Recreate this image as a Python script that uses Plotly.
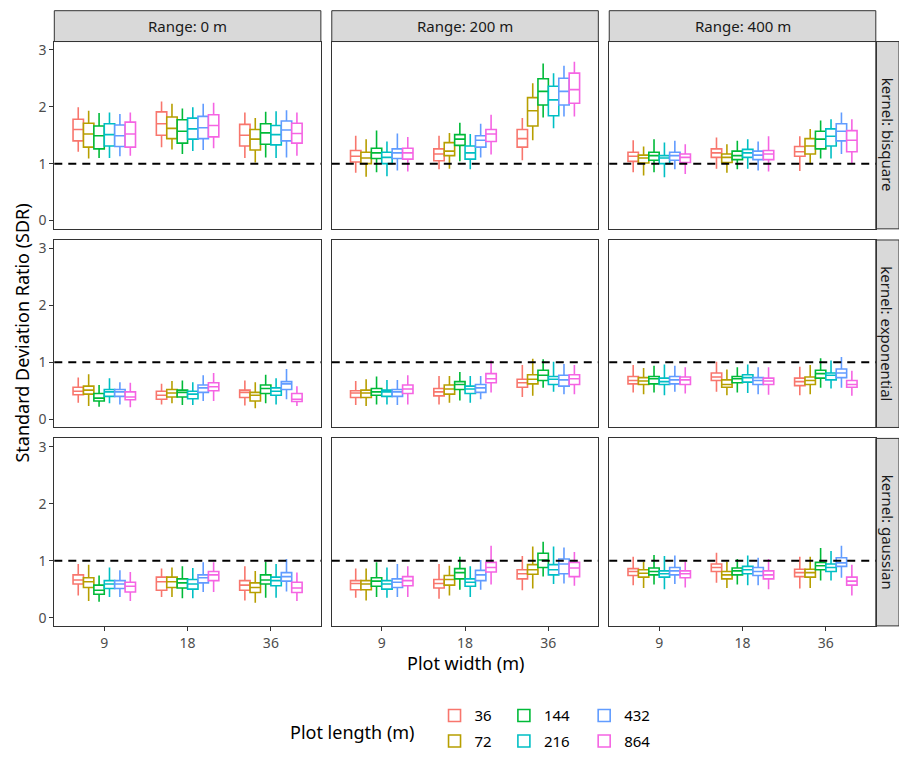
import plotly.graph_objects as go

# ---------------- data ----------------
widths = ["9", "18", "36"]                      # x categories: plot width (m)
lengths = ["36", "72", "144", "216", "432", "864"]  # series: plot length (m)
ranges = ["Range: 0 m", "Range: 200 m", "Range: 400 m"]
kernels = ["kernel: bisquare", "kernel: exponential", "kernel: gaussian"]
colors = ["#F8766D", "#B79F00", "#00BA38", "#00BFC4", "#619CFF", "#F564E3"]
y_ticks = [0, 1, 2, 3]

# each panel: per width, per length -> (lower whisker, q1, median, q3, upper whisker)
bisquare_0 = [
    [(1.21, 1.40, 1.60, 1.78, 1.99), (1.09, 1.29, 1.52, 1.71, 1.93), (1.10, 1.26, 1.49, 1.66, 1.89),
     (1.10, 1.31, 1.51, 1.70, 1.90), (1.13, 1.30, 1.49, 1.68, 1.87), (1.14, 1.29, 1.52, 1.73, 1.90)],
    [(1.29, 1.50, 1.70, 1.91, 2.09), (1.25, 1.44, 1.62, 1.82, 2.05), (1.17, 1.36, 1.57, 1.77, 1.97),
     (1.22, 1.43, 1.61, 1.80, 1.99), (1.24, 1.44, 1.63, 1.83, 2.05), (1.27, 1.47, 1.67, 1.86, 2.07)],
    [(1.10, 1.31, 1.50, 1.69, 1.90), (1.02, 1.24, 1.43, 1.60, 1.80), (1.11, 1.34, 1.54, 1.70, 1.91),
     (1.10, 1.33, 1.51, 1.67, 1.92), (1.11, 1.40, 1.59, 1.75, 1.94), (1.14, 1.36, 1.53, 1.71, 1.90)],
]
bisquare_200 = [
    [(0.84, 1.03, 1.13, 1.23, 1.49), (0.77, 1.00, 1.10, 1.20, 1.43), (0.85, 1.09, 1.19, 1.27, 1.58),
     (0.78, 1.00, 1.11, 1.20, 1.39), (0.88, 1.09, 1.19, 1.26, 1.53), (0.86, 1.08, 1.19, 1.27, 1.47)],
    [(0.90, 1.05, 1.17, 1.26, 1.49), (0.91, 1.14, 1.22, 1.37, 1.54), (1.04, 1.32, 1.43, 1.51, 1.72),
     (0.90, 1.08, 1.19, 1.31, 1.52), (1.11, 1.29, 1.41, 1.49, 1.70), (1.16, 1.39, 1.52, 1.60, 1.86)],
    [(1.06, 1.29, 1.44, 1.60, 1.80), (1.41, 1.66, 1.93, 2.16, 2.41), (1.81, 2.03, 2.27, 2.49, 2.76),
     (1.62, 1.84, 2.12, 2.36, 2.59), (1.83, 2.03, 2.27, 2.50, 2.72), (1.83, 2.06, 2.30, 2.59, 2.79)],
]
bisquare_400 = [
    [(0.85, 1.04, 1.13, 1.20, 1.41), (0.79, 1.01, 1.10, 1.15, 1.30), (0.85, 1.06, 1.14, 1.20, 1.43),
     (0.76, 1.00, 1.10, 1.14, 1.37), (0.90, 1.06, 1.14, 1.20, 1.40), (0.82, 1.02, 1.11, 1.17, 1.34)],
    [(0.91, 1.11, 1.19, 1.26, 1.46), (0.84, 1.02, 1.11, 1.17, 1.34), (0.90, 1.07, 1.14, 1.22, 1.40),
     (0.91, 1.11, 1.19, 1.25, 1.43), (0.88, 1.07, 1.15, 1.22, 1.39), (0.86, 1.07, 1.17, 1.23, 1.48)],
    [(0.87, 1.13, 1.21, 1.30, 1.48), (1.00, 1.17, 1.31, 1.44, 1.61), (1.09, 1.26, 1.43, 1.57, 1.76),
     (1.09, 1.31, 1.48, 1.61, 1.78), (1.17, 1.40, 1.57, 1.70, 1.90), (1.01, 1.21, 1.41, 1.58, 1.78)],
]
exponential_0 = [
    [(0.29, 0.43, 0.49, 0.56, 0.73), (0.23, 0.44, 0.51, 0.58, 0.79), (0.22, 0.32, 0.37, 0.45, 0.60),
     (0.28, 0.40, 0.48, 0.52, 0.72), (0.26, 0.40, 0.48, 0.52, 0.65), (0.21, 0.34, 0.39, 0.48, 0.64)],
    [(0.26, 0.35, 0.42, 0.49, 0.62), (0.28, 0.39, 0.46, 0.52, 0.67), (0.25, 0.39, 0.47, 0.51, 0.68),
     (0.25, 0.36, 0.44, 0.49, 0.65), (0.32, 0.47, 0.55, 0.60, 0.77), (0.32, 0.50, 0.57, 0.64, 0.81)],
    [(0.24, 0.38, 0.47, 0.51, 0.68), (0.19, 0.32, 0.42, 0.47, 0.65), (0.28, 0.45, 0.54, 0.60, 0.78),
     (0.26, 0.42, 0.49, 0.55, 0.72), (0.35, 0.52, 0.62, 0.66, 0.88), (0.23, 0.31, 0.35, 0.45, 0.58)],
]
exponential_200 = [
    [(0.25, 0.38, 0.46, 0.50, 0.67), (0.23, 0.38, 0.46, 0.51, 0.70), (0.26, 0.42, 0.48, 0.54, 0.75),
     (0.26, 0.40, 0.48, 0.51, 0.69), (0.25, 0.40, 0.48, 0.52, 0.69), (0.26, 0.45, 0.53, 0.60, 0.77)],
    [(0.26, 0.41, 0.48, 0.54, 0.76), (0.29, 0.44, 0.53, 0.60, 0.76), (0.33, 0.52, 0.61, 0.66, 0.83),
     (0.29, 0.45, 0.53, 0.58, 0.76), (0.35, 0.47, 0.55, 0.61, 0.76), (0.47, 0.64, 0.71, 0.80, 1.03)],
    [(0.39, 0.56, 0.64, 0.70, 0.95), (0.41, 0.62, 0.70, 0.78, 1.06), (0.55, 0.68, 0.77, 0.86, 1.05),
     (0.48, 0.61, 0.70, 0.75, 1.01), (0.44, 0.58, 0.69, 0.77, 0.97), (0.44, 0.61, 0.71, 0.78, 0.95)],
]
exponential_400 = [
    [(0.47, 0.62, 0.68, 0.75, 0.95), (0.44, 0.61, 0.67, 0.73, 0.90), (0.47, 0.62, 0.71, 0.75, 0.94),
     (0.42, 0.61, 0.66, 0.72, 0.96), (0.48, 0.62, 0.69, 0.75, 0.94), (0.45, 0.61, 0.69, 0.74, 0.91)],
    [(0.48, 0.68, 0.74, 0.81, 1.01), (0.42, 0.56, 0.61, 0.69, 0.87), (0.47, 0.64, 0.71, 0.75, 0.91),
     (0.46, 0.65, 0.73, 0.78, 0.96), (0.44, 0.61, 0.68, 0.73, 0.91), (0.43, 0.61, 0.67, 0.72, 0.91)],
    [(0.42, 0.59, 0.66, 0.72, 0.92), (0.44, 0.61, 0.68, 0.74, 0.95), (0.55, 0.72, 0.80, 0.86, 1.07),
     (0.54, 0.69, 0.77, 0.81, 1.03), (0.55, 0.73, 0.81, 0.88, 1.09), (0.41, 0.56, 0.61, 0.68, 0.85)],
]
gaussian_0 = [
    [(0.39, 0.59, 0.66, 0.75, 0.94), (0.29, 0.53, 0.63, 0.70, 0.93), (0.28, 0.41, 0.48, 0.57, 0.74),
     (0.36, 0.51, 0.59, 0.65, 0.88), (0.36, 0.51, 0.59, 0.65, 0.83), (0.29, 0.45, 0.55, 0.62, 0.80)],
    [(0.36, 0.48, 0.63, 0.71, 0.86), (0.36, 0.53, 0.63, 0.71, 0.88), (0.34, 0.52, 0.61, 0.68, 0.90),
     (0.34, 0.50, 0.59, 0.67, 0.87), (0.45, 0.61, 0.70, 0.75, 0.97), (0.45, 0.65, 0.75, 0.81, 0.97)],
    [(0.30, 0.48, 0.57, 0.65, 0.90), (0.26, 0.44, 0.53, 0.61, 0.82), (0.35, 0.59, 0.66, 0.75, 0.98),
     (0.35, 0.56, 0.65, 0.71, 0.94), (0.46, 0.64, 0.72, 0.79, 1.03), (0.29, 0.44, 0.52, 0.62, 0.79)],
]
gaussian_200 = [
    [(0.35, 0.49, 0.60, 0.65, 0.86), (0.30, 0.49, 0.59, 0.65, 0.86), (0.36, 0.55, 0.64, 0.70, 0.97),
     (0.35, 0.50, 0.59, 0.65, 0.88), (0.36, 0.53, 0.62, 0.68, 0.94), (0.36, 0.56, 0.65, 0.72, 0.90)],
    [(0.33, 0.52, 0.60, 0.67, 0.94), (0.39, 0.57, 0.67, 0.74, 0.91), (0.49, 0.68, 0.79, 0.86, 1.07),
     (0.36, 0.55, 0.62, 0.68, 0.90), (0.49, 0.65, 0.75, 0.83, 1.01), (0.58, 0.80, 0.88, 0.97, 1.26)],
    [(0.48, 0.68, 0.77, 0.84, 1.08), (0.51, 0.76, 0.84, 0.93, 1.25), (0.72, 0.88, 1.01, 1.13, 1.33),
     (0.59, 0.75, 0.84, 0.93, 1.25), (0.60, 0.77, 0.94, 1.03, 1.23), (0.56, 0.72, 0.87, 0.97, 1.15)],
]
gaussian_400 = [
    [(0.57, 0.74, 0.81, 0.86, 1.07), (0.52, 0.71, 0.78, 0.84, 0.98), (0.58, 0.75, 0.81, 0.87, 1.10),
     (0.50, 0.71, 0.77, 0.82, 1.08), (0.59, 0.75, 0.82, 0.88, 1.09), (0.53, 0.70, 0.77, 0.82, 0.98)],
    [(0.61, 0.81, 0.88, 0.94, 1.14), (0.52, 0.68, 0.75, 0.81, 0.98), (0.58, 0.75, 0.82, 0.87, 1.03),
     (0.57, 0.77, 0.84, 0.90, 1.09), (0.57, 0.74, 0.81, 0.88, 1.05), (0.50, 0.68, 0.75, 0.82, 1.03)],
    [(0.51, 0.72, 0.79, 0.85, 1.07), (0.52, 0.71, 0.79, 0.85, 1.07), (0.65, 0.84, 0.91, 0.97, 1.22),
     (0.65, 0.81, 0.88, 0.94, 1.17), (0.70, 0.90, 0.96, 1.05, 1.26), (0.39, 0.57, 0.64, 0.71, 0.93)],
]

panels = [
    [bisquare_0, bisquare_200, bisquare_400],
    [exponential_0, exponential_200, exponential_400],
    [gaussian_0, gaussian_200, gaussian_400],
]

# ---------------- layout geometry ----------------
# Coordinates below are page pixels in the 907x764 window; the html body adds an
# 8px margin, so the figure is slightly smaller and shifted.
BODY = 8
FW, FH = 891, 748
SX = (FW + BODY - 54.3) / (906.7 - 54.3)
SY = (FH - 2.7) / (760.0 - 10.7)

def fx(p):   # page px -> figure px
    return 54.3 - BODY + (p - 54.3) * SX

def fy(p):
    return 10.7 - BODY + (p - 10.7) * SY

def px_x(p):
    return fx(p) / FW

def px_y(p):
    return 1 - fy(p) / FH

col_px = [(54.3, 323.3), (334.3, 603.3), (614.3, 883.3)]
row_px = [(41.7, 230.0), (241.2, 429.7), (440.7, 629.2)]
strip_top = (10.7, 41.7)
strip_right = (883.3, 906.7)
FONT = "Noto Sans"

def sfx(k):
    return "" if k == 1 else str(k)

fig = go.Figure()
legend_of = {0: "legend", 1: "legend", 2: "legend2", 3: "legend2", 4: "legend3", 5: "legend3"}

for r in range(3):
    for c in range(3):
        k = r * 3 + c + 1
        data = panels[r][c]
        for j, L in enumerate(lengths):
            stats = [data[w][j] for w in range(3)]
            fig.add_trace(go.Box(
                x=widths,
                lowerfence=[s[0] for s in stats],
                q1=[s[1] for s in stats],
                median=[s[2] for s in stats],
                q3=[s[3] for s in stats],
                upperfence=[s[4] for s in stats],
                name=L,
                legendgroup=L,
                legend=legend_of[j],
                showlegend=(k == 1),
                offsetgroup=L,
                alignmentgroup=f"panel{k}",
                line=dict(color=colors[j], width=1.6),
                fillcolor="white",
                whiskerwidth=0,
                boxpoints=False,
                hoverinfo="skip",
                xaxis=f"x{sfx(k)}",
                yaxis=f"y{sfx(k)}",
            ))

layout = dict(
    width=FW, height=FH,
    margin=dict(l=0, r=0, t=0, b=0, pad=0, autoexpand=False),
    paper_bgcolor="white",
    plot_bgcolor="white",
    boxmode="group",
    boxgap=0.25,
    boxgroupgap=0,
    font=dict(family=FONT, color="#1A1A1A"),
    showlegend=True,
)

for r in range(3):
    for c in range(3):
        k = r * 3 + c + 1
        x0, x1 = col_px[c]
        yt, yb = row_px[r]
        layout[f"xaxis{sfx(k)}"] = dict(
            domain=[px_x(x0), px_x(x1)],
            anchor=f"y{sfx(k)}",
            type="category",
            categoryorder="array",
            categoryarray=widths,
            range=[-0.6, 2.6],
            showgrid=False, zeroline=False,
            showline=True, mirror=True, linecolor="#333333", linewidth=1,
            ticks="outside" if r == 2 else "",
            ticklen=4, tickwidth=1, tickcolor="#333333",
            showticklabels=(r == 2),
            tickfont=dict(size=14, color="#4D4D4D", family=FONT),
        )
        layout[f"yaxis{sfx(k)}"] = dict(
            domain=[px_y(yb), px_y(yt)],
            anchor=f"x{sfx(k)}",
            range=[-0.145, 3.145],
            tickvals=y_ticks,
            showgrid=False, zeroline=False,
            showline=True, mirror=True, linecolor="#333333", linewidth=1,
            ticks="outside" if c == 0 else "",
            ticklen=4, tickwidth=1, tickcolor="#333333",
            showticklabels=(c == 0),
            tickfont=dict(size=14, color="#4D4D4D", family=FONT),
        )

shapes = []
annotations = []
# dashed reference line at SDR = 1
for k in range(1, 10):
    shapes.append(dict(type="line", xref=f"x{sfx(k)} domain", x0=0, x1=1,
                       yref=f"y{sfx(k)}", y0=1, y1=1,
                       line=dict(color="black", width=2, dash="8px,6px"), layer="above"))
# top strips
for c in range(3):
    x0, x1 = col_px[c]
    shapes.append(dict(type="rect", xref="paper", yref="paper",
                       x0=px_x(x0), x1=px_x(x1), y0=px_y(strip_top[1]), y1=px_y(strip_top[0]),
                       fillcolor="#D9D9D9", line=dict(color="#333333", width=1), layer="below"))
    annotations.append(dict(text=ranges[c], xref="paper", yref="paper",
                            x=px_x((x0 + x1) / 2), y=px_y(sum(strip_top) / 2),
                            showarrow=False, xanchor="center", yanchor="middle",
                            font=dict(size=15, color="#1A1A1A", family=FONT)))
# right strips
for r in range(3):
    yt, yb = row_px[r]
    shapes.append(dict(type="rect", xref="paper", yref="paper",
                       x0=px_x(strip_right[0]), x1=px_x(strip_right[1]), y0=px_y(yb), y1=px_y(yt),
                       fillcolor="#D9D9D9", line=dict(color="#333333", width=1), layer="below"))
    annotations.append(dict(text=kernels[r], xref="paper", yref="paper",
                            x=px_x(sum(strip_right) / 2), y=px_y((yt + yb) / 2),
                            showarrow=False, textangle=90, xanchor="center", yanchor="middle",
                            font=dict(size=15, color="#1A1A1A", family=FONT)))
# axis titles
annotations.append(dict(text="Standard Deviation Ratio (SDR)", xref="paper", yref="paper",
                        x=px_x(22), y=px_y(335), showarrow=False, textangle=-90,
                        xanchor="center", yanchor="middle",
                        font=dict(size=18, color="black", family=FONT)))
annotations.append(dict(text="Plot width (m)", xref="paper", yref="paper",
                        x=px_x(469), y=px_y(666), showarrow=False,
                        xanchor="center", yanchor="middle",
                        font=dict(size=18, color="black", family=FONT)))
# legend title
annotations.append(dict(text="Plot length (m)", xref="paper", yref="paper",
                        x=px_x(355), y=px_y(736), showarrow=False,
                        xanchor="center", yanchor="middle",
                        font=dict(size=18, color="black", family=FONT)))

layout["shapes"] = shapes
layout["annotations"] = annotations

leg_top = 1 - (fy(718) - 15) / FH
leg_common = dict(orientation="v", traceorder="grouped", tracegroupgap=3,
                  bgcolor="rgba(0,0,0,0)", borderwidth=0,
                  font=dict(size=15, color="black", family=FONT),
                  xanchor="left", yanchor="top", yref="paper", xref="paper", y=leg_top)
layout["legend"] = dict(x=px_x(438), **leg_common)
layout["legend2"] = dict(x=px_x(508), **leg_common)
layout["legend3"] = dict(x=px_x(589), **leg_common)

fig.update_layout(**layout)
fig.write_html("out.html")
